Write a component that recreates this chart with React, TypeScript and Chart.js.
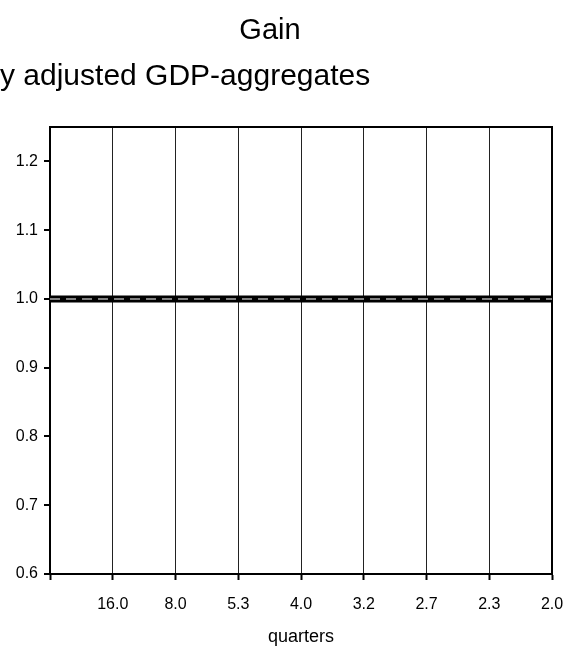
import React, { useEffect, useRef } from "react";
import { Chart, registerables } from "chart.js";

Chart.register(...registerables);

const TITLE = "Gain";
const SUBTITLE = "y adjusted GDP-aggregates";
const X_TITLE = "quarters";

// frequency positions (cycles per quarter) of the x ticks
const FREQ_TICKS = [0, 1 / 16, 2 / 16, 3 / 16, 4 / 16, 5 / 16, 6 / 16, 7 / 16, 8 / 16];
// period labels (quarters)
const PERIOD_LABELS = ["", "16.0", "8.0", "5.3", "4.0", "3.2", "2.7", "2.3", "2.0"];
const Y_TICKS = [0.6, 0.7, 0.8, 0.9, 1.0, 1.1, 1.2];

// series
const FREQS = [0, 1 / 16, 2 / 16, 3 / 16, 4 / 16, 5 / 16, 6 / 16, 7 / 16, 8 / 16];
const GAIN_A = [1.0, 1.0, 1.0, 1.0, 1.0, 1.0, 1.0, 1.0, 1.0];
const GAIN_B = [1.0, 1.0, 1.0, 1.0, 1.0, 1.0, 1.0, 1.0, 1.0];

const FONT = "'Liberation Sans', Arial, sans-serif";

const titlePlugin = {
  id: "customTitles",
  afterDraw(chart: any) {
    const ctx = chart.ctx;
    ctx.save();
    ctx.fillStyle = "#000";
    ctx.textBaseline = "alphabetic";
    ctx.font = `29px ${FONT}`;
    ctx.textAlign = "center";
    ctx.fillText(TITLE, 270, 39);
    ctx.font = `30px ${FONT}`;
    ctx.textAlign = "left";
    ctx.fillText(SUBTITLE, 0, 85);
    ctx.restore();
  },
};

const noPad = (s: any) => {
  s.paddingLeft = 0;
  s.paddingRight = 0;
  s.paddingTop = 0;
  s.paddingBottom = 0;
};

export default function App() {
  const ref = useRef<HTMLCanvasElement | null>(null);
  useEffect(() => {
    if (!ref.current) return;
    const chart = new Chart(ref.current, {
      type: "line",
      data: {
        datasets: [
          {
            label: "gain1",
            data: FREQS.map((f, i) => ({ x: f, y: GAIN_A[i] })),
            borderColor: "#000",
            borderWidth: 7,
            pointRadius: 0,
            order: 2,
          },
          {
            label: "gain2",
            data: FREQS.map((f, i) => ({ x: f, y: GAIN_B[i] })),
            borderColor: "#808080",
            borderWidth: 2,
            borderDash: [10, 6],
            pointRadius: 0,
            order: 1,
          },
        ],
      },
      options: {
        responsive: false,
        animation: false,
        devicePixelRatio: 1,
        layout: { padding: { top: 127, right: 18, left: 0, bottom: 0 } },
        plugins: { legend: { display: false }, tooltip: { enabled: false }, title: { display: false } },
        scales: {
          x: {
            type: "linear",
            position: "bottom",
            min: 0,
            max: 0.5,
            afterBuildTicks: (s: any) => {
              s.ticks = FREQ_TICKS.map((v) => ({ value: v }));
            },
            afterFit: (s: any) => {
              s.height = 74;
              noPad(s);
            },
            ticks: {
              autoSkip: false,
              maxRotation: 0,
              padding: 15,
              color: "#000",
              font: { family: FONT, size: 16 },
              callback: (_v: any, i: number) => PERIOD_LABELS[i],
            },
            grid: { color: "#222", lineWidth: 1, tickLength: 6, drawTicks: true, tickColor: "#000", tickWidth: 2 },
            border: { display: true, color: "#000", width: 2 },
            title: {
              display: true,
              text: X_TITLE,
              color: "#000",
              font: { family: FONT, size: 18 },
              padding: { top: 0, bottom: 0 },
            },
          },
          x2: {
            type: "linear",
            position: "top",
            min: 0,
            max: 0.5,
            ticks: { display: false },
            grid: { display: false },
            border: { display: true, color: "#000", width: 2 },
            afterFit: (s: any) => {
              s.height = 0;
              noPad(s);
            },
          },
          y: {
            type: "linear",
            position: "left",
            min: 0.6,
            max: 1.25,
            afterBuildTicks: (s: any) => {
              s.ticks = Y_TICKS.map((v) => ({ value: v }));
            },
            afterFit: (s: any) => {
              s.width = 50;
              noPad(s);
            },
            ticks: {
              padding: 6,
              color: "#000",
              font: { family: FONT, size: 16 },
              callback: (v: any) => Number(v).toFixed(1),
            },
            grid: { drawOnChartArea: false, drawTicks: true, tickLength: 6, color: "#000", lineWidth: 2 },
            border: { display: true, color: "#000", width: 2 },
          },
          y2: {
            type: "linear",
            position: "right",
            min: 0.6,
            max: 1.25,
            ticks: { display: false },
            grid: { display: false },
            border: { display: true, color: "#000", width: 2 },
            afterFit: (s: any) => {
              s.width = 0;
              noPad(s);
            },
          },
        },
      },
      plugins: [titlePlugin],
    } as any);
    return () => chart.destroy();
  }, []);
  return (
    <div style={{ position: "fixed", left: 0, top: 0, width: 570, height: 648, background: "#fff" }}>
      <canvas ref={ref} width={570} height={648} style={{ width: 570, height: 648, display: "block" }} />
    </div>
  );
}
